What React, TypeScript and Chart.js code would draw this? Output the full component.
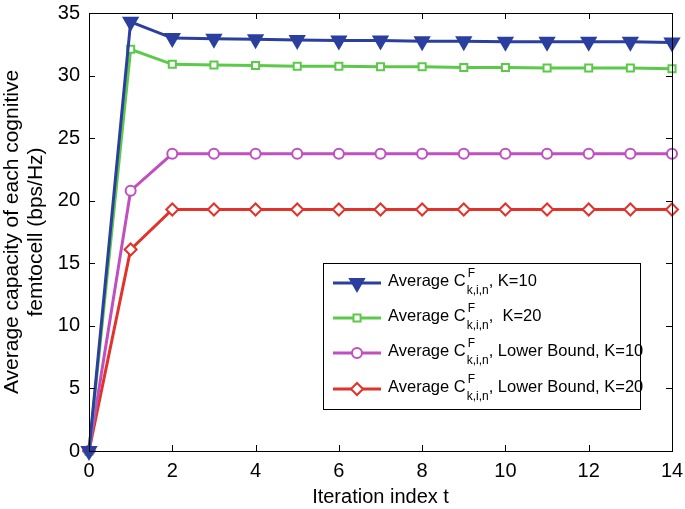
import React, { useEffect, useRef } from "react";
import { Chart, registerables } from "chart.js";
import { drawPoint } from "chart.js/helpers";
Chart.register(...registerables);

const iterations = [0, 1, 2, 3, 4, 5, 6, 7, 8, 9, 10, 11, 12, 13, 14];
const avgK10 = [0, 34.3, 33.0, 32.95, 32.9, 32.85, 32.8, 32.8, 32.75, 32.75, 32.7, 32.7, 32.7, 32.7, 32.65];
const avgK20 = [0, 32.1, 30.9, 30.85, 30.8, 30.75, 30.75, 30.7, 30.7, 30.65, 30.65, 30.6, 30.6, 30.6, 30.55];
const lbK10 = [0, 20.8, 23.75, 23.75, 23.75, 23.75, 23.75, 23.75, 23.75, 23.75, 23.75, 23.75, 23.75, 23.75, 23.75];
const lbK20 = [0, 16.1, 19.3, 19.3, 19.3, 19.3, 19.3, 19.3, 19.3, 19.3, 19.3, 19.3, 19.3, 19.3, 19.3];
const legendSuffixes = [", K=10", ",  K=20", ", Lower Bound, K=10", ", Lower Bound, K=20"];
const xTicks = [0, 2, 4, 6, 8, 10, 12, 14];
const yTicks = [0, 5, 10, 15, 20, 25, 30, 35];

const FONT = "Arial, 'Liberation Sans', Helvetica, sans-serif";

const seriesStyles = [
  { color: "#2b3f9e", style: "triangle", rotation: 180, radius: 8, fill: true },
  { color: "#5cc94a", style: "rect", rotation: 0, radius: 5, fill: false },
  { color: "#c04fc0", style: "circle", rotation: 0, radius: 5, fill: false },
  { color: "#e2322a", style: "rectRot", rotation: 0, radius: 6, fill: false },
];

const boxPlugin = {
  id: "boxTicks",
  afterDraw(chart: any) {
    const { ctx, chartArea: a, scales } = chart;
    const xs = scales.x, ys = scales.y;
    ctx.save();
    ctx.strokeStyle = "#000";
    ctx.lineWidth = 1;
    ctx.strokeRect(a.left + 0.5, a.top + 0.5, a.right - a.left, a.bottom - a.top);
    const L = 6;
    ctx.beginPath();
    for (const t of xTicks) {
      const px = Math.round(xs.getPixelForValue(t)) + 0.5;
      ctx.moveTo(px, a.bottom); ctx.lineTo(px, a.bottom - L);
      ctx.moveTo(px, a.top); ctx.lineTo(px, a.top + L);
    }
    for (const t of yTicks) {
      const py = Math.round(ys.getPixelForValue(t)) + 0.5;
      ctx.moveTo(a.left, py); ctx.lineTo(a.left + L, py);
      ctx.moveTo(a.right, py); ctx.lineTo(a.right - L, py);
    }
    ctx.stroke();

    // legend
    const bx = 323, by = 263, bw = 317, bh = 146;
    ctx.fillStyle = "#fff";
    ctx.fillRect(bx, by, bw, bh);
    ctx.strokeStyle = "#000";
    ctx.strokeRect(bx + 0.5, by + 0.5, bw, bh);
    const rowsY = [283, 318, 353, 389];
    chart.data.datasets.forEach((ds: any, i: number) => {
      const y = rowsY[i];
      const s = seriesStyles[i];
      ctx.strokeStyle = s.color;
      ctx.lineWidth = 3;
      ctx.beginPath();
      ctx.moveTo(333, y); ctx.lineTo(381, y);
      ctx.stroke();
      ctx.fillStyle = s.fill ? s.color : "#fff";
      ctx.lineWidth = 2;
      drawPoint(ctx, { pointStyle: s.style, rotation: s.rotation, radius: s.radius, borderWidth: 2 } as any, 357, y);
      ctx.fillStyle = "#000";
      ctx.textBaseline = "alphabetic";
      ctx.textAlign = "left";
      ctx.font = `16.5px ${FONT}`;
      let x = 388;
      const base = y + 3;
      ctx.fillText("Average C", x, base);
      x += ctx.measureText("Average C").width;
      ctx.font = `12px ${FONT}`;
      ctx.fillText("F", x + 2, base - 9);
      ctx.fillText("k,i,n", x + 1, base + 8);
      x += ctx.measureText("k,i,n").width + 1;
      ctx.font = `16.5px ${FONT}`;
      ctx.fillText(legendSuffixes[i], x, base);
    });
    ctx.restore();
  },
};

export default function App() {
  const ref = useRef<HTMLCanvasElement>(null);
  useEffect(() => {
    const all = [avgK10, avgK20, lbK10, lbK20];
    const chart = new Chart(ref.current!, {
      type: "line",
      data: {
        datasets: all.map((arr, i) => ({
          label: "s" + i,
          data: arr.map((v, j) => ({ x: iterations[j], y: v })),
          borderColor: seriesStyles[i].color,
          backgroundColor: seriesStyles[i].fill ? seriesStyles[i].color : "#ffffff",
          pointStyle: seriesStyles[i].style as any,
          pointRotation: seriesStyles[i].rotation,
          pointRadius: seriesStyles[i].radius,
          pointBorderWidth: 2,
          borderWidth: 3,
          tension: 0,
          clip: false as any,
        })),
      },
      options: {
        animation: false,
        responsive: false,
        layout: { padding: { top: 13, right: 13, left: 0, bottom: 0 } },
        plugins: { legend: { display: false }, tooltip: { enabled: false } },
        scales: {
          x: {
            type: "linear",
            min: 0,
            max: 14,
            afterBuildTicks: (s: any) => { s.ticks = xTicks.map((v) => ({ value: v })); },
            afterFit: (s: any) => { s.height = 58; s.paddingLeft = 0; s.paddingRight = 0; },
            grid: { drawOnChartArea: false, drawTicks: false, display: false },
            border: { display: false },
            ticks: { color: "#000", font: { size: 20, family: FONT }, padding: 8 },
            title: { display: true, text: "Iteration index t", color: "#000", font: { size: 20, family: FONT }, padding: { top: 0, bottom: 0 } },
          },
          y: {
            min: 0,
            max: 35,
            afterBuildTicks: (s: any) => { s.ticks = yTicks.map((v) => ({ value: v })); },
            afterFit: (s: any) => { s.width = 89; s.paddingTop = 0; s.paddingBottom = 0; },
            grid: { drawOnChartArea: false, drawTicks: false, display: false },
            border: { display: false },
            ticks: { color: "#000", font: { size: 20, family: FONT }, padding: 9 },
            title: {
              display: true,
              text: ["Average capacity of each cognitive", "femtocell (bps/Hz)"],
              color: "#000",
              font: { size: 21, family: FONT, lineHeight: 1.15 },
              padding: { top: 0, bottom: 0 },
            },
          },
        },
      },
      plugins: [boxPlugin],
    });
    return () => chart.destroy();
  }, []);
  return (
    <div style={{ position: "fixed", left: 0, top: 0, width: 685, height: 509, background: "#fff" }}>
      <canvas ref={ref} width={685} height={509} />
    </div>
  );
}
